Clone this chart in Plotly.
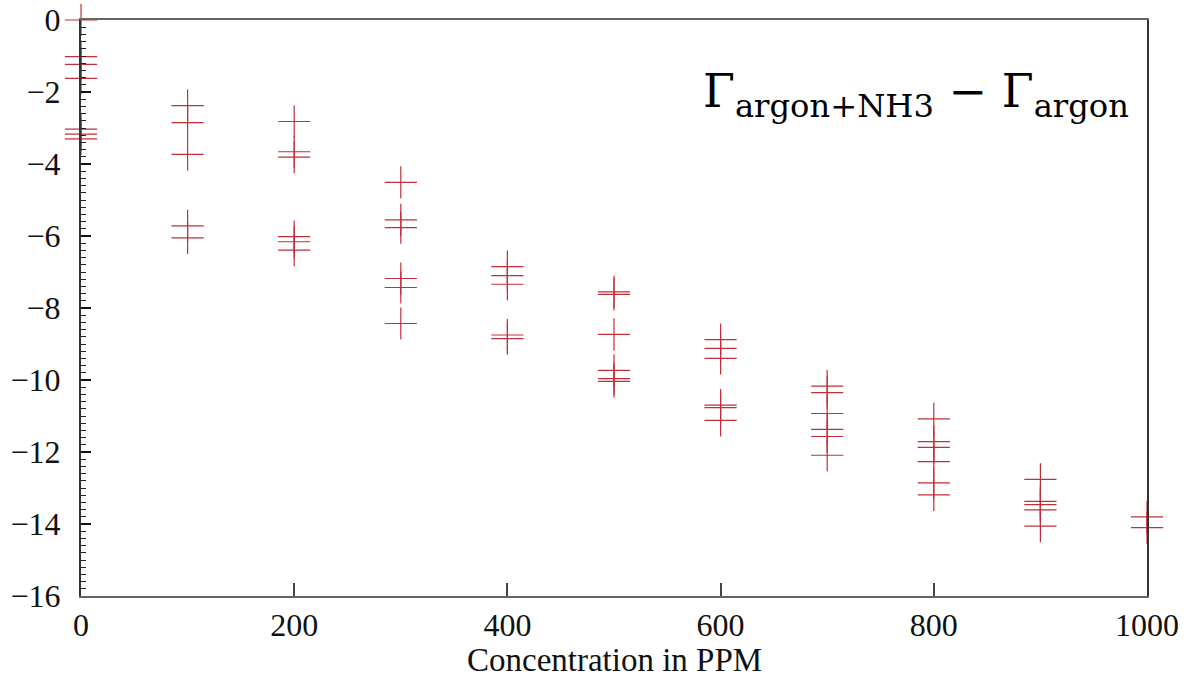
import plotly.graph_objects as go

conc_0 = [0, 0, 0, 0, 0, 0, 0]
vals_0 = [0.0, -1.02, -1.23, -1.62, -3.03, -3.17, -3.30]
conc_100 = [100] * 5
vals_100 = [-2.38, -2.85, -3.73, -5.72, -6.05]
conc_200 = [200] * 6
vals_200 = [-2.82, -3.66, -3.81, -6.02, -6.16, -6.39]
conc_300 = [300] * 6
vals_300 = [-4.51, -5.55, -5.77, -7.18, -7.43, -8.43]
conc_400 = [400] * 5
vals_400 = [-6.85, -7.10, -7.34, -8.75, -8.85]
conc_500 = [500] * 6
vals_500 = [-7.55, -7.62, -8.73, -9.73, -9.96, -10.04]
conc_600 = [600] * 6
vals_600 = [-8.88, -9.12, -9.40, -10.70, -10.77, -11.12]
conc_700 = [700] * 6
vals_700 = [-10.17, -10.35, -10.93, -11.37, -11.57, -12.09]
conc_800 = [800] * 6
vals_800 = [-11.08, -11.71, -11.87, -12.27, -12.86, -13.19]
conc_900 = [900] * 5
vals_900 = [-12.76, -13.37, -13.46, -13.61, -14.06]
conc_1000 = [1000] * 2
vals_1000 = [-13.80, -14.10]

x_ticks = [0, 200, 400, 600, 800, 1000]
y_ticks = [0, -2, -4, -6, -8, -10, -12, -14, -16]
x_title = "Concentration in PPM"

xs = (conc_0 + conc_100 + conc_200 + conc_300 + conc_400 + conc_500 +
      conc_600 + conc_700 + conc_800 + conc_900 + conc_1000)
ys = (vals_0 + vals_100 + vals_200 + vals_300 + vals_400 + vals_500 +
      vals_600 + vals_700 + vals_800 + vals_900 + vals_1000)

fig = go.Figure()
fig.add_trace(go.Scatter(
    x=xs, y=ys, mode="markers",
    marker=dict(symbol="cross-thin", size=23,
                line=dict(color="#c0303a", width=1.2)),
    cliponaxis=False, showlegend=False,
))

serif = "Liberation Serif"
fig.update_layout(
    width=1192, height=677,
    margin=dict(l=81, r=45, t=20, b=81, autoexpand=False),
    paper_bgcolor="white", plot_bgcolor="white",
    font=dict(family=serif, color="#111"),
    xaxis=dict(
        range=[0, 1000], tickvals=x_ticks, ticktext=[str(v) for v in x_ticks],
        showgrid=False, zeroline=False, automargin=False,
        showline=True, linecolor="#666", linewidth=2, mirror=True,
        ticks="inside", ticklen=13, tickcolor="#444", tickwidth=1.5,
        ticklabeloverflow="allow",
        tickfont=dict(family=serif, size=32, color="#111"),
    ),
    yaxis=dict(
        range=[-16, 0], tickvals=y_ticks,
        showgrid=False, zeroline=False, automargin=False,
        showline=True, linecolor="#333", linewidth=2, mirror=True,
        ticks="inside", ticklen=10, tickcolor="#111", tickwidth=1.5,
        ticklabelstandoff=12, ticklabeloverflow="allow",
        minor=dict(dtick=0.2, ticks="inside", ticklen=5, tickcolor="#222",
                   tickwidth=1, showgrid=False),
        tickfont=dict(family=serif, size=32, color="#111"),
    ),
)

fig.add_annotation(
    xref="paper", yref="paper", x=0.5, y=-0.111, xanchor="center", yanchor="middle",
    text=x_title, showarrow=False,
    font=dict(family=serif, size=33, color="#111"),
)

fig.add_annotation(
    xref="paper", yref="paper", x=0.985, y=0.87, xanchor="right", yanchor="middle",
    text="Γ<sub>argon+NH3</sub> − Γ<sub>argon</sub>",
    showarrow=False,
    font=dict(family="DejaVu Serif", size=46, color="#000"),
)

fig.write_html("out.html", config={"displayModeBar": False},
               post_script="document.body.style.margin='0';document.body.style.overflow='hidden';")
